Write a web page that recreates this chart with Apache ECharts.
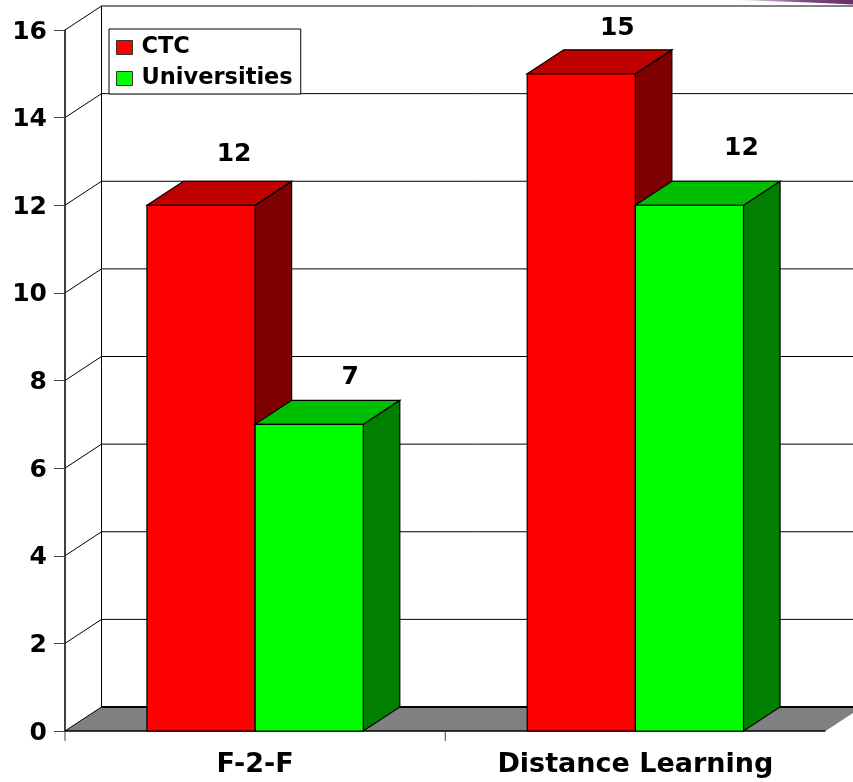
<!DOCTYPE html>
<html>
<head>
<meta charset="utf-8">
<style>html,body{margin:0;padding:0;background:#fff}#chart{width:853px;height:782px}</style>
<script src="https://cdn.jsdelivr.net/npm/echarts@6/dist/echarts.min.js"></script>
</head>
<body>
<div id="chart"></div>
<script>
const categories = ['F-2-F', 'Distance Learning']
const ctcValues = [12, 15]
const uniValues = [7, 12]
const yTicks = [0, 2, 4, 6, 8, 10, 12, 14, 16]

// pseudo 3d look: how far the back wall sits from the front plane
const DX = 36.5
const DY = 24
const BAR_RATIO = 0.2845
const FONT = '"DejaVu Sans", "Liberation Sans", Arial, sans-serif'
// the data labels were moved by hand in the original, so nudge each one [dx, dy] from the bar top
const ctcLabelNudge = [[33, -51], [36, -45]]
const uniLabelNudge = [[41, -47], [52, -57]]

function wallItem(params, api) {
  const cs = params.coordSys
  const tick = api.value(1)
  const y = api.coord([0, tick])[1]
  const left = cs.x
  const right = cs.x + cs.width
  const line = {stroke: '#000', lineWidth: 1, fill: null}
  const children = []
  if (tick === 0) {
    children.push({
      type: 'polygon',
      shape: {points: [[left, y], [right, y], [right + DX, y - DY], [left + DX, y - DY]]},
      style: {fill: '#808080', stroke: null}
    })
    children.push({type: 'line', shape: {x1: left, y1: y, x2: right, y2: y}, style: {stroke: '#000', lineWidth: 1.5}})
    // x ticks, the last boundary has none in the picture
    for (let i = 0; i < categories.length; i++) {
      const bandLeft = left + i * cs.width / categories.length
      children.push({type: 'line', shape: {x1: bandLeft, y1: y, x2: bandLeft, y2: y + 10}, style: {stroke: '#444', lineWidth: 1}})
    }
  }
  if (tick === 16) {
    const y0 = api.coord([0, 0])[1]
    children.push({type: 'line', shape: {x1: left + DX, y1: y0 - DY, x2: left + DX, y2: y - DY}, style: line})
  }
  children.push({type: 'line', shape: {x1: left, y1: y, x2: left + DX, y2: y - DY}, style: line})
  children.push({type: 'line', shape: {x1: left + DX, y1: y - DY, x2: right + DX, y2: y - DY}, style: {stroke: '#000', lineWidth: tick === 0 ? 2 : 1}})
  return {type: 'group', children}
}

function barItem(offset, front, top, side, nudge) {
  return function (params, api) {
    const idx = api.value(0)
    const val = api.value(1)
    const p = api.coord([idx, val])
    const base = api.coord([idx, 0])
    const w = api.size([1, 0])[0] * BAR_RATIO
    const x0 = p[0] + offset * w
    const x1 = x0 + w
    const edge = {stroke: '#000', lineWidth: 1.2}
    return {
      type: 'group',
      children: [
        {type: 'polygon', shape: {points: [[x1, p[1]], [x1 + DX, p[1] - DY], [x1 + DX, base[1] - DY], [x1, base[1]]]}, style: {fill: side, ...edge}},
        {type: 'polygon', shape: {points: [[x0, p[1]], [x0 + DX, p[1] - DY], [x1 + DX, p[1] - DY], [x1, p[1]]]}, style: {fill: top, ...edge}},
        {type: 'rect', shape: {x: x0, y: p[1], width: w, height: base[1] - p[1]}, style: {fill: front, ...edge}},
        {
          type: 'text',
          x: x0 + w / 2 + nudge[params.dataIndex][0],
          y: p[1] + nudge[params.dataIndex][1],
          style: {text: String(val), font: 'bold 25px ' + FONT, fill: '#000', align: 'center', verticalAlign: 'middle'}
        }
      ]
    }
  }
}

const chart = echarts.init(document.getElementById('chart'))
chart.setOption({
  animation: false,
  backgroundColor: '#fff',
  grid: {left: 65, right: 27.5, top: 30, bottom: 51},
  // sliver of a purple slide decoration left in the top right corner of the picture
  graphic: [{
    type: 'polygon',
    silent: true,
    shape: {points: [[733, 0], [853, 0], [853, 4.5], [810, 2.5]]},
    style: {
      fill: {
        type: 'linear', x: 0, y: 0, x2: 1, y2: 0,
        colorStops: [{offset: 0, color: 'rgba(106,44,106,0)'}, {offset: 0.6, color: '#7a4a80'}, {offset: 1, color: '#6a2c6a'}]
      }
    }
  }],
  legend: {
    data: ['CTC', 'Universities'],
    orient: 'vertical',
    left: 109,
    top: 29,
    padding: [7, 8, 4, 7],
    itemGap: 8,
    itemWidth: 16,
    itemHeight: 14,
    backgroundColor: '#fff',
    borderColor: '#000',
    borderWidth: 1,
    borderRadius: 0,
    icon: 'rect',
    itemStyle: {borderColor: '#333', borderWidth: 1},
    textStyle: {fontFamily: FONT, fontWeight: 'bold', fontSize: 22.5, color: '#000', padding: [0, 0, 0, 4]}
  },
  xAxis: {
    type: 'category',
    data: categories,
    axisLine: {show: false},
    axisTick: {show: false},
    axisLabel: {fontFamily: FONT, fontWeight: 'bold', fontSize: 27, color: '#000', margin: 20}
  },
  yAxis: {
    type: 'value',
    min: 0,
    max: 16,
    interval: 2,
    splitLine: {show: false},
    axisLine: {show: true, lineStyle: {color: '#000', width: 1.5}},
    axisTick: {show: true, length: 11, lineStyle: {color: '#444'}},
    axisLabel: {
      margin: 18,
      formatter: '{n|{value}}',
      rich: {n: {fontFamily: FONT, fontWeight: 'bold', fontSize: 25, color: '#000', padding: [4, 0, 0, 0]}}
    }
  },
  series: [
    {
      type: 'custom',
      name: 'wall',
      renderItem: wallItem,
      silent: true,
      z: 1,
      data: yTicks.map(t => [0, t])
    },
    {
      type: 'custom',
      name: 'CTC',
      itemStyle: {color: '#ff0000'},
      renderItem: barItem(-1, '#ff0000', '#bf0000', '#7f0000', ctcLabelNudge),
      z: 2,
      data: ctcValues.map((v, i) => [i, v])
    },
    {
      type: 'custom',
      name: 'Universities',
      itemStyle: {color: '#00ff00'},
      renderItem: barItem(0, '#00ff00', '#00bf00', '#007f00', uniLabelNudge),
      z: 3,
      data: uniValues.map((v, i) => [i, v])
    }
  ]
})
</script>
</body>
</html>
